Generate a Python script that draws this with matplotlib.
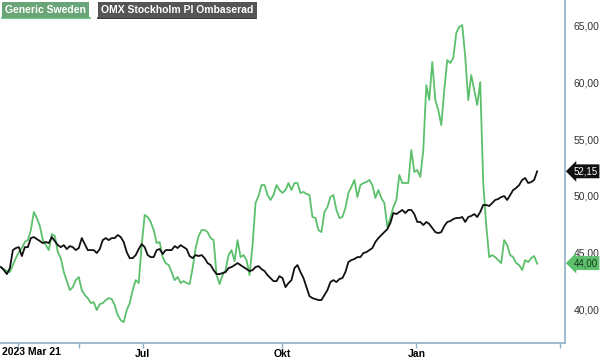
import numpy as np
import matplotlib
matplotlib.use("Agg")
import matplotlib.pyplot as plt
from matplotlib.ticker import FuncFormatter

plt.rcParams['font.family'] = ['Liberation Sans', 'DejaVu Sans']

# values, one sample every ~3 px (index = trading step)
generic_sweden = [
    43.70, 43.52, 43.35, 43.26, 43.88, 44.49, 45.02, 45.38, 45.91, 46.08,
    46.97, 48.56, 48.03, 47.32, 46.08, 45.64, 45.20, 46.61, 46.44, 45.02,
    44.49, 43.26, 42.46, 41.67, 41.93, 42.55, 42.82, 41.67, 41.23, 40.96,
    40.52, 40.61, 39.90, 40.43, 40.52, 40.79, 40.96, 40.87, 40.34, 39.46,
    39.02, 38.84, 39.90, 40.52, 41.67, 42.55, 42.29, 45.64, 48.30, 48.12,
    47.68, 46.97, 45.82, 45.91, 44.58, 44.05, 43.88, 43.26, 42.55, 42.82,
    42.29, 42.46, 42.29, 42.20, 43.61, 45.38, 46.44, 46.97, 46.97, 46.79,
    46.26, 46.08, 42.99, 42.20, 42.99, 43.43, 44.76, 45.20, 44.23, 46.08,
    44.58, 44.76, 44.32, 42.99, 45.64, 49.35, 49.97, 50.94, 50.94, 50.06,
    49.62, 50.06, 50.94, 50.50, 50.24, 50.50, 51.12, 50.50, 51.12, 51.12,
    50.24, 50.33, 50.15, 50.06, 48.12, 48.03, 46.97, 46.79, 48.56, 49.00,
    49.88, 50.06, 48.74, 48.03, 48.12, 48.91, 50.24, 50.77, 51.39, 49.88,
    50.94, 51.12, 51.20, 51.39, 50.94, 49.80, 50.50, 49.80, 49.35, 47.23,
    48.03, 49.00, 49.62, 51.83, 51.12, 51.12, 51.12, 54.03, 52.09, 52.27,
    51.65, 54.03, 59.76, 58.44, 61.80, 58.44, 57.56, 56.23, 59.32, 61.97,
    61.71, 62.15, 64.36, 64.89, 65.06, 62.24, 58.44, 60.65, 59.32, 58.00,
    60.03, 51.12, 47.41, 44.58, 44.76, 44.58, 44.32, 44.05, 46.08, 45.64,
    44.76, 44.58, 44.05, 43.88, 43.43, 44.32, 44.14, 44.49, 44.67, 44.00,
]

omx_pi = [
    43.70, 43.43, 43.08, 43.61, 45.20, 45.38, 45.46, 44.67, 45.46, 45.46,
    46.26, 46.35, 46.17, 45.99, 45.82, 45.91, 45.82, 46.35, 45.99, 45.64,
    45.46, 45.64, 45.29, 45.55, 45.46, 45.20, 45.38, 46.26, 45.73, 45.20,
    45.20, 45.20, 44.94, 45.29, 46.08, 46.26, 46.08, 46.26, 46.26, 46.53,
    46.35, 45.91, 45.02, 44.49, 44.49, 44.76, 45.29, 45.73, 45.46, 44.76,
    44.58, 44.58, 45.20, 45.29, 44.85, 45.20, 45.20, 45.20, 45.55, 45.38,
    45.64, 45.46, 45.29, 44.67, 44.49, 44.76, 44.67, 44.76, 44.49, 44.05,
    43.88, 43.43, 43.08, 43.08, 43.17, 43.26, 43.61, 43.70, 43.88, 44.05,
    43.88, 43.70, 43.52, 43.35, 43.43, 43.70, 43.79, 43.52, 43.35, 42.99,
    42.73, 42.46, 42.46, 42.90, 42.73, 41.93, 42.29, 42.55, 43.61, 43.88,
    43.26, 42.73, 41.93, 41.14, 40.96, 40.87, 40.79, 40.79, 41.23, 41.67,
    42.38, 42.55, 42.38, 42.64, 42.73, 43.26, 44.14, 44.32, 44.41, 44.58,
    44.58, 44.94, 45.02, 45.20, 45.38, 45.91, 46.26, 46.53, 46.79, 47.05,
    47.59, 48.47, 48.38, 48.56, 48.74, 48.47, 48.74, 48.74, 48.38, 47.68,
    47.68, 47.41, 47.68, 47.50, 47.15, 46.79, 46.70, 46.79, 47.32, 47.68,
    47.76, 47.94, 48.03, 48.03, 48.12, 47.68, 48.12, 48.21, 48.38, 48.12,
    48.56, 49.18, 49.18, 49.09, 49.35, 49.62, 49.71, 49.88, 49.97, 49.62,
    50.06, 50.50, 50.68, 50.94, 51.39, 51.56, 51.12, 51.20, 51.39, 52.15,
]

tick_pos = [5.7, 26, 47.3, 94, 138.7, 186.7]
tick_labels = ["", "", "Jul", "Okt", "Jan", ""]
y_ticks = [40, 45, 50, 55, 60, 65]

GREEN = "#5cc06c"
AXIS = "#8db0c4"

fig = plt.figure(figsize=(6, 3.62), dpi=100)
ax = fig.add_axes([0, 1 - 343 / 362, 565 / 600, 343 / 362])

x = np.arange(len(generic_sweden))
ax.plot(x, generic_sweden, color=GREEN, lw=1.3)
ax.plot(x, omx_pi, color="#111111", lw=1.3)

ax.set_xlim(-0.3, 188.3)
ax.set_ylim(37.0, 67.27)

for s in ["top", "left"]:
    ax.spines[s].set_visible(False)
for s in ["right", "bottom"]:
    ax.spines[s].set_color(AXIS)
    ax.spines[s].set_linewidth(1.2)

ax.yaxis.tick_right()
ax.set_yticks(y_ticks)
ax.yaxis.set_major_formatter(FuncFormatter(lambda v, p: f"{v:.2f}".replace(".", ",")))
ax.tick_params(axis="y", length=0, pad=6, labelsize=7.5, labelcolor="#333333")

ax.set_xticks(tick_pos)
ax.set_xticklabels(tick_labels, fontweight="bold", fontsize=7.5)
ax.tick_params(axis="x", length=3.5, width=1, color=AXIS, pad=1)
ax.get_xticklines()[2].set_color("#e05050")
ax.text(0.003, -0.013, "2023 Mar 21", transform=ax.transAxes, ha="left", va="top",
        fontsize=7.5, fontweight="bold")

# last value markers on the right axis
ax.annotate(f"{omx_pi[-1]:.2f}".replace(".", ","), xy=(1.0, omx_pi[-1]),
            xycoords=("axes fraction", "data"), xytext=(6, 0), textcoords="offset points",
            ha="left", va="center", fontsize=7, color="white", annotation_clip=False,
            bbox=dict(boxstyle="larrow,pad=0.2", fc="#111111", ec="none"))
ax.annotate(f"{generic_sweden[-1]:.2f}".replace(".", ","), xy=(1.0, generic_sweden[-1] + 0.05),
            xycoords=("axes fraction", "data"), xytext=(6, 0), textcoords="offset points",
            ha="left", va="center", fontsize=7, color="#1a3a1a", annotation_clip=False,
            bbox=dict(boxstyle="larrow,pad=0.2", fc=GREEN, ec="none"))

# legend boxes
fig.text(5 / 600, 1 - 10 / 362, "Generic Sweden", ha="left", va="center", fontsize=7.5,
         fontweight="bold", color="white",
         bbox=dict(boxstyle="square,pad=0.3", fc="#6aa577", ec="none"))
fig.text(101 / 600, 1 - 10 / 362, "OMX Stockholm PI Ombaserad", ha="left", va="center",
         fontsize=7.5, fontweight="bold", color="white",
         bbox=dict(boxstyle="square,pad=0.3", fc="#555555", ec="none"))
fig.add_artist(plt.Line2D([2 / 600, 90 / 600], [1 - 18 / 362] * 2, color=GREEN, lw=1.2))
fig.add_artist(plt.Line2D([98 / 600, 256 / 600], [1 - 18 / 362] * 2, color="#111111", lw=1.2))

fig.savefig("out.png", dpi=100)
